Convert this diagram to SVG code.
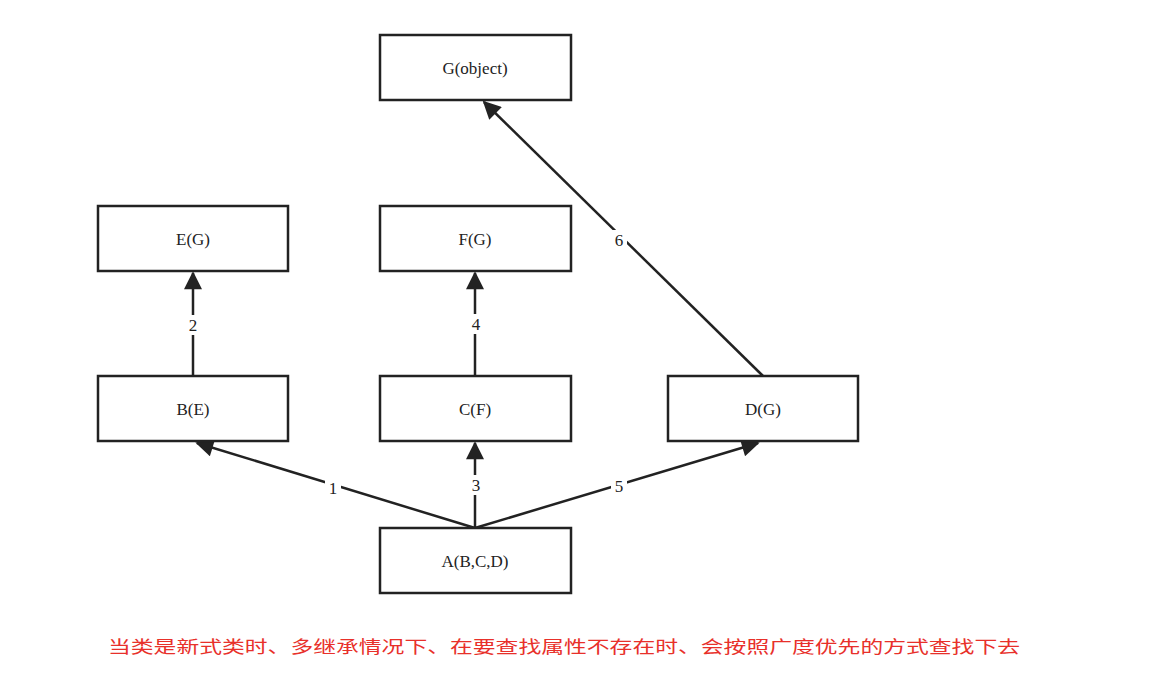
<svg xmlns="http://www.w3.org/2000/svg" width="1162" height="678" viewBox="0 0 1162 678">
<style>
.n rect{fill:#fff;stroke:#222;stroke-width:2.5}
.n text{font-family:"Liberation Serif",serif;font-size:17px;fill:#222;text-anchor:middle}
.c line{stroke:#222;stroke-width:2.5}
.l{font-family:"Liberation Serif",serif;font-size:17px;fill:#222;text-anchor:middle}
.r{font-family:"Noto Sans CJK SC",sans-serif;font-size:17px;fill:#e8302a}
</style>
<defs><marker id="a" viewBox="0 0 10 10" refX="9" refY="5" markerWidth="5" markerHeight="6" orient="auto" markerUnits="userSpaceOnUse" ><path d="M0,0L10,5L0,10z" fill="#222"/></marker>
<marker id="m" viewBox="0 0 10 10" refX="9" refY="5" markerWidth="22" markerHeight="18" orient="auto" markerUnits="userSpaceOnUse"><path d="M0,0L10,5L0,10z" fill="#222"/></marker></defs>
<rect width="1162" height="678" fill="#fff"/>
<g class="c">
<line x1="475" y1="528" x2="197" y2="443" marker-end="url(#m)"/>
<line x1="475" y1="528" x2="475" y2="443" marker-end="url(#m)"/>
<line x1="475" y1="528" x2="758" y2="443" marker-end="url(#m)"/>
<line x1="193" y1="376" x2="193" y2="273" marker-end="url(#m)"/>
<line x1="475" y1="376" x2="475" y2="273" marker-end="url(#m)"/>
<line x1="763" y1="376" x2="484" y2="102" marker-end="url(#m)"/>
<g>
<rect x="325" y="478" width="16" height="20" fill="#fff"/><text class="l" x="333" y="494">1</text>
<rect x="468" y="475" width="16" height="20" fill="#fff"/><text class="l" x="476" y="491">3</text>
<rect x="611" y="476" width="16" height="20" fill="#fff"/><text class="l" x="619" y="492">5</text>
<rect x="185" y="315" width="16" height="20" fill="#fff"/><text class="l" x="193" y="331">2</text>
<rect x="468" y="314" width="16" height="20" fill="#fff"/><text class="l" x="476" y="330">4</text>
<rect x="611" y="230" width="16" height="20" fill="#fff"/><text class="l" x="619" y="246">6</text>
</g>
</g>
<g id="G" class="n"><rect x="380" y="35" width="191" height="65"/><text x="475" y="74">G(object)</text></g>
<g id="E" class="n"><rect x="98" y="206" width="190" height="65"/><text x="193" y="245">E(G)</text></g>
<g id="F" class="n"><rect x="380" y="206" width="191" height="65"/><text x="475" y="245">F(G)</text></g>
<g id="B" class="n"><rect x="98" y="376" width="190" height="65"/><text x="193" y="415">B(E)</text></g>
<g id="C" class="n"><rect x="380" y="376" width="191" height="65"/><text x="475" y="415">C(F)</text></g>
<g id="D" class="n"><rect x="668" y="376" width="190" height="65"/><text x="763" y="415">D(G)</text></g>
<g id="A" class="n"><rect x="380" y="528" width="191" height="65"/><text x="475" y="567">A(B,C,D)</text></g>
<text class="r" x="108" y="653" textLength="912" lengthAdjust="spacingAndGlyphs">当类是新式类时、多继承情况下、在要查找属性不存在时、会按照广度优先的方式查找下去</text>
</svg>
